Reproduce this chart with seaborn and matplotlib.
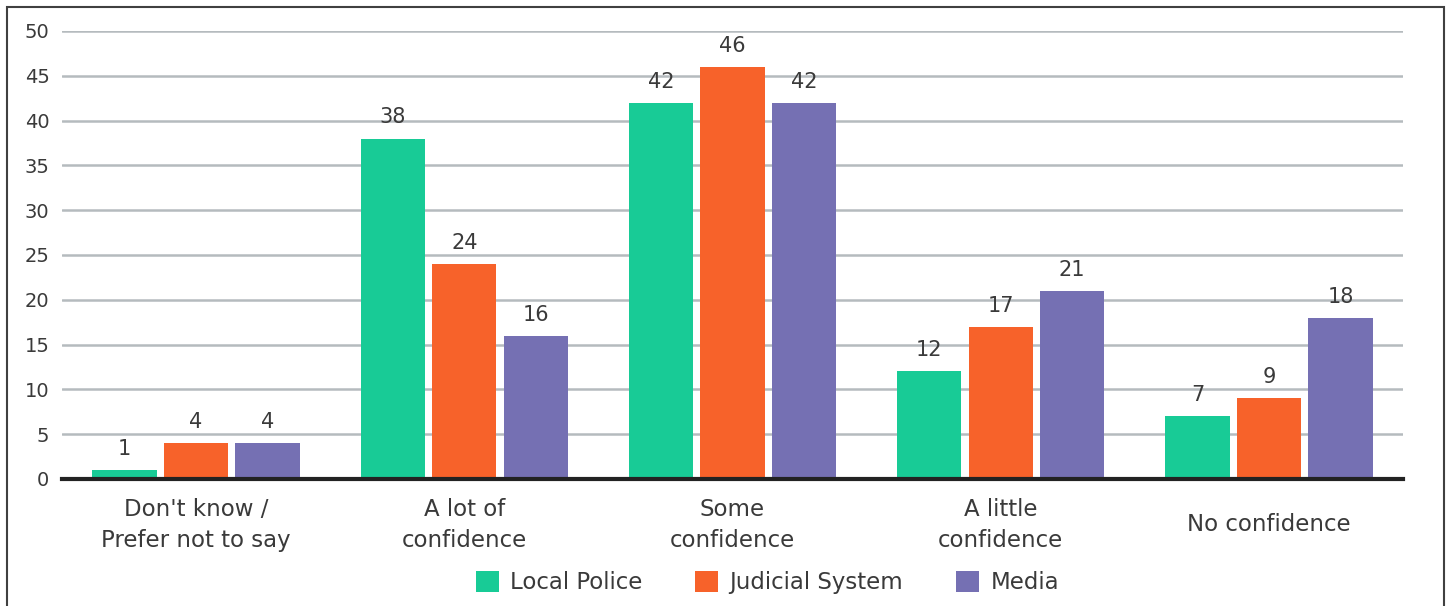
import matplotlib
matplotlib.use("Agg")
import matplotlib.pyplot as plt
import seaborn as sns
import pandas as pd
from matplotlib.patches import Rectangle

categories = ["Don't know /\nPrefer not to say", "A lot of\nconfidence",
              "Some\nconfidence", "A little\nconfidence", "No confidence"]
series = ["Local Police", "Judicial System", "Media"]
local_police = [1, 38, 42, 12, 7]
judicial_system = [4, 24, 46, 17, 9]
media = [4, 16, 42, 21, 18]
colors = ["#18CB96", "#F7622A", "#7570B3"]

df = pd.DataFrame({
    "category": categories * 3,
    "series": [series[0]] * 5 + [series[1]] * 5 + [series[2]] * 5,
    "value": local_police + judicial_system + media,
})

sns.set_theme(style="white")
plt.rcParams["font.family"] = ["DejaVu Sans"]
text_color = "#3a3a3a"

fig = plt.figure(figsize=(14.47, 6.06), dpi=100)
ax = fig.add_axes([62 / 1447, 1 - 479 / 606, (1403 - 62) / 1447, (479 - 31) / 606])

sns.barplot(data=df, x="category", y="value", hue="series", order=categories,
            hue_order=series, palette=colors, width=0.8, gap=0.1,
            saturation=1, linewidth=0, ax=ax, legend=True)

for cont in ax.containers:
    ax.bar_label(cont, fmt="%d", padding=8, fontsize=15, color=text_color)

ax.set_ylim(0, 50)
ax.set_xlim(-0.5, 4.5)
ax.set_yticks(range(0, 51, 5))
ax.yaxis.grid(True, color="#B5BBBE", linewidth=1.8)
ax.set_axisbelow(True)
for s in ["top", "right", "left"]:
    ax.spines[s].set_visible(False)
ax.spines["bottom"].set_color("#222222")
ax.spines["bottom"].set_linewidth(3)
ax.tick_params(axis="y", length=0, pad=9, labelsize=14, labelcolor=text_color)
ax.tick_params(axis="x", length=0, pad=33, labelsize=16.5, labelcolor=text_color)
for lbl in ax.get_xticklabels():
    lbl.set_linespacing(1.45)
    lbl.set_verticalalignment("center")
ax.set_xlabel("")
ax.set_ylabel("")

handles, labels = ax.get_legend_handles_labels()
ax.legend(handles, labels, loc="center", bbox_to_anchor=(0.526, -0.232),
          ncol=3, frameon=False, fontsize=16.5, handlelength=1.0,
          handleheight=1.0, handletextpad=0.5, columnspacing=2.3,
          labelcolor=text_color)

fig.patches.append(Rectangle((7 / 1447, -0.05), (1444 - 7) / 1447, 1.05 - 7 / 606,
                             transform=fig.transFigure, fill=False,
                             edgecolor="#404040", linewidth=1.5))

fig.savefig("out.png", dpi=100)
